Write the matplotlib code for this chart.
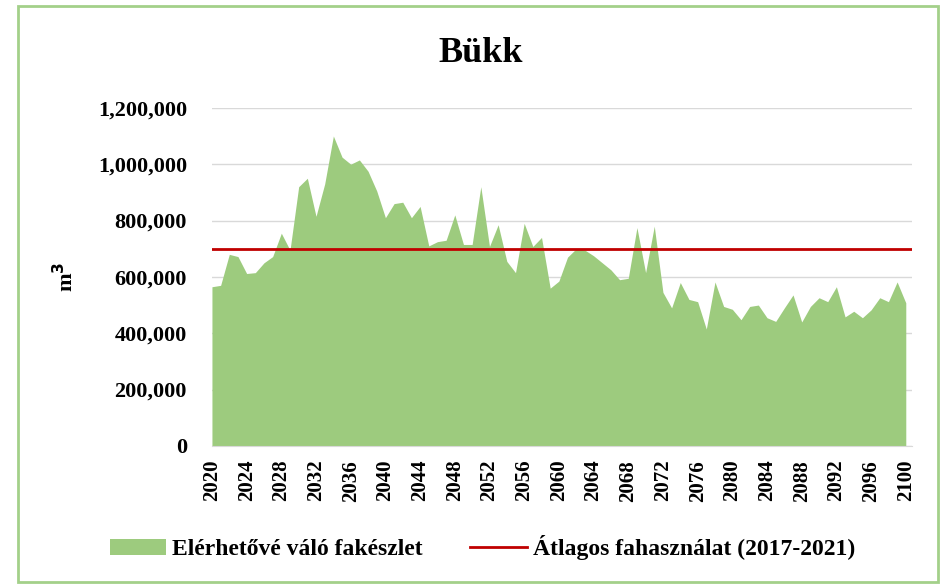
import numpy as np
import matplotlib.pyplot as plt
from matplotlib.patches import Rectangle
from matplotlib.ticker import FuncFormatter

years = np.arange(2020, 2101)
available_stock = [
    565, 570, 680, 672, 612, 615, 650, 672, 755, 695,
    920, 950, 815, 930, 1100, 1025, 1000, 1015, 975, 905,
    810, 860, 865, 810, 850, 710, 725, 730, 820, 715,
    715, 920, 708, 785, 655, 615, 790, 708, 740, 560,
    585, 670, 700, 695, 675, 650, 625, 590, 595, 775,
    615, 780, 545, 490, 580, 520, 512, 415, 582, 495,
    485, 448, 495, 500, 455, 442, 490, 536, 440, 495,
    526, 512, 565, 458, 478, 455, 483, 526, 512, 582,
    508,
]
available_stock = np.array(available_stock) * 1000
avg_harvest = 700000

title = "Bükk"
area_label = "Elérhetővé váló fakészlet"
line_label = "Átlagos fahasználat (2017-2021)"

plt.rcParams['font.family'] = ['Liberation Serif', 'DejaVu Serif']
plt.rcParams['font.weight'] = 'bold'

fig = plt.figure(figsize=(9.42, 5.86), dpi=100)
ax = fig.add_axes([0.225, 0.239, 0.743, 0.577])

ax.fill_between(years, available_stock, 0, color='#9dcb7e', linewidth=0,
                label=area_label)
ax.axhline(avg_harvest, color='#c00000', linewidth=2, label=line_label)

ax.set_xlim(2020, 2100.7)
ax.set_ylim(0, 1200000)
ax.set_yticks(np.arange(0, 1200001, 200000))
ax.yaxis.set_major_formatter(FuncFormatter(lambda v, p: f"{int(v):,}"))
ax.set_xticks(np.arange(2020, 2101, 4))
ax.tick_params(axis='x', rotation=90, length=0, labelsize=15, pad=10)
ax.tick_params(axis='y', length=0, labelsize=16, pad=18)
for lab in ax.get_xticklabels() + ax.get_yticklabels():
    lab.set_fontweight('bold')

ax.grid(axis='y', color='#d9d9d9', linewidth=1)
ax.set_axisbelow(True)
for s in ['top', 'right', 'left']:
    ax.spines[s].set_visible(False)
ax.spines['bottom'].set_color('#d9d9d9')

ax.set_ylabel("m$^3$", fontsize=16, fontweight='bold', labelpad=14)
fig.text(0.51, 0.908, title, ha='center', va='center', fontsize=26,
         fontweight='bold')

leg = fig.legend(loc='center', bbox_to_anchor=(0.512, 0.065), ncol=2,
                 frameon=False, fontsize=17, handlelength=2.4,
                 columnspacing=2.0, handletextpad=0.25)
for t in leg.get_texts():
    t.set_fontweight('bold')

fig.patches.append(Rectangle((0.019, 0.006), 0.977, 0.984,
                             transform=fig.transFigure, fill=False,
                             edgecolor='#a3d08a', linewidth=2))

fig.savefig('out.png', dpi=100)
